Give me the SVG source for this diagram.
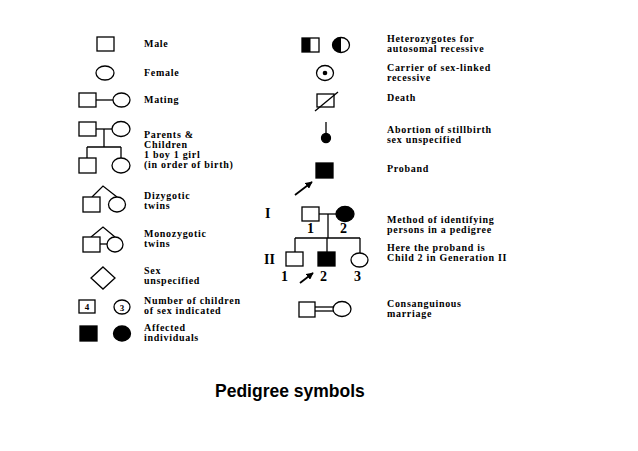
<svg xmlns="http://www.w3.org/2000/svg" width="638" height="451" viewBox="0 0 638 451">
<style>
.s{fill:#fff;stroke:#000;stroke-width:1.3}
.f{fill:#000;stroke:#000;stroke-width:1.3}
.l{fill:none;stroke:#000;stroke-width:1.3}
.a{fill:none;stroke:#000;stroke-width:1.8}
.t{font-family:"Liberation Serif","Times New Roman",serif;font-weight:bold;font-size:10px;letter-spacing:0.7px;fill:#000}
.n{font-family:"Liberation Serif","Times New Roman",serif;font-weight:bold;font-size:14px;fill:#000}
.c{font-family:"Liberation Serif","Times New Roman",serif;font-weight:bold;font-size:9px;fill:#000;text-anchor:middle}
.h{font-family:"Liberation Sans",Arial,sans-serif;font-weight:bold;font-size:17.5px;fill:#000}
</style>
<defs>
<marker id="ah" viewBox="0 0 10 10" refX="9" refY="5" markerWidth="4" markerHeight="4" orient="auto"><path d="M0,0L10,5L0,10z" fill="#000"/></marker>
</defs>
<rect width="638" height="451" fill="#fff"/>

<g id="connectors">
<line class="l" x1="96" y1="100" x2="113" y2="100"/>
<line class="l" x1="96" y1="129" x2="112" y2="129"/>
<line class="l" x1="104" y1="129" x2="104" y2="147"/>
<line class="l" x1="87" y1="147" x2="121" y2="147"/>
<line class="l" x1="87" y1="147" x2="87" y2="158"/>
<line class="l" x1="121" y1="147" x2="121" y2="158"/>
<polyline class="l" points="92,197 103,186 117,197"/>
<polyline class="l" points="91,237 103,227 115,237"/>
<line class="l" x1="100" y1="244" x2="107" y2="244"/>
<line class="l" x1="326" y1="122" x2="326" y2="133"/>
<line class="a" x1="295" y1="195" x2="312" y2="182" marker-end="url(#ah)"/>
<line class="l" x1="319" y1="214" x2="336" y2="214"/>
<line class="l" x1="328" y1="214" x2="328" y2="238"/>
<line class="l" x1="295" y1="238" x2="360" y2="238"/>
<line class="l" x1="295" y1="238" x2="295" y2="252"/>
<line class="l" x1="327" y1="238" x2="327" y2="252"/>
<line class="l" x1="360" y1="238" x2="360" y2="253"/>
<line class="a" x1="300" y1="283" x2="313" y2="273" marker-end="url(#ah)"/>
<line class="l" x1="315" y1="307" x2="333" y2="307"/>
<line class="l" x1="315" y1="311" x2="333" y2="311"/>
</g>

<g id="male"><rect class="s" x="97" y="37" width="17" height="14"/><text class="t" x="144" y="47">Male</text></g>
<g id="female"><ellipse class="s" cx="105" cy="73" rx="9" ry="7"/><text class="t" x="144" y="76">Female</text></g>
<g id="mating"><rect class="s" x="79" y="93" width="17" height="14"/><ellipse class="s" cx="121.5" cy="100" rx="8.5" ry="7"/><text class="t" x="144" y="103">Mating</text></g>
<g id="parents"><rect class="s" x="79" y="122" width="17" height="14"/><ellipse class="s" cx="121" cy="129" rx="9" ry="7.5"/>
<rect class="s" x="79" y="158" width="17" height="15"/><ellipse class="s" cx="121" cy="165.5" rx="9" ry="7.5"/>
<text class="t" x="144" y="138">Parents &amp;</text><text class="t" x="144" y="148">Children</text><text class="t" x="144" y="158">1 boy 1 girl</text><text class="t" x="144" y="168">(in order of birth)</text></g>
<g id="dizygotic"><rect class="s" x="83" y="197" width="17" height="15"/><ellipse class="s" cx="117" cy="204.5" rx="8.5" ry="7.5"/><text class="t" x="144" y="199">Dizygotic</text><text class="t" x="144" y="209">twins</text></g>
<g id="monozygotic"><rect class="s" x="83" y="237" width="17" height="15"/><ellipse class="s" cx="115" cy="244.5" rx="8" ry="7.5"/><text class="t" x="144" y="237">Monozygotic</text><text class="t" x="144" y="247">twins</text></g>
<g id="unspecified"><polygon class="s" points="103,267 115,278 103,289 91,278"/><text class="t" x="144" y="274">Sex</text><text class="t" x="144" y="284">unspecified</text></g>
<g id="number"><rect class="s" x="79" y="300" width="16" height="13"/><text class="c" x="87" y="310">4</text><ellipse class="s" cx="122" cy="307" rx="8" ry="7"/><text class="c" x="122" y="310.5">3</text><text class="t" x="144" y="304">Number of children</text><text class="t" x="144" y="314">of sex indicated</text></g>
<g id="affected"><rect class="f" x="80" y="326" width="17" height="15"/><ellipse class="f" cx="122" cy="333.5" rx="8.5" ry="7.5"/><text class="t" x="144" y="331">Affected</text><text class="t" x="144" y="341">individuals</text></g>

<g id="heterozygotes"><rect class="s" x="302" y="38" width="17" height="14"/><rect x="302" y="38" width="8.5" height="14" fill="#000"/>
<ellipse class="s" cx="341" cy="45" rx="8.5" ry="7.5"/><path d="M341,37.5A8.5,7.5 0 0 0 341,52.5Z" fill="#000"/>
<text class="t" x="387" y="42">Heterozygotes for</text><text class="t" x="387" y="52">autosomal recessive</text></g>
<g id="carrier"><ellipse class="s" cx="325" cy="73" rx="8.5" ry="7.5"/><circle cx="325" cy="73" r="2.3" fill="#000"/><text class="t" x="387" y="71">Carrier of sex-linked</text><text class="t" x="387" y="81">recessive</text></g>
<g id="death"><rect class="s" x="317" y="94" width="17" height="13"/><line class="l" x1="315" y1="111" x2="338" y2="92"/><text class="t" x="387" y="101">Death</text></g>
<g id="abortion"><ellipse class="f" cx="326" cy="138" rx="4.5" ry="4.5"/><text class="t" x="387" y="133">Abortion of stillbirth</text><text class="t" x="387" y="143">sex unspecified</text></g>
<g id="proband"><rect class="f" x="316" y="163" width="17" height="15"/><text class="t" x="387" y="172">Proband</text></g>

<g id="pedigree">
<text class="n" x="265" y="218">I</text>
<text class="n" x="264" y="264">II</text>
<rect class="s" x="302" y="207" width="17" height="14"/>
<ellipse class="f" cx="345" cy="214" rx="9" ry="7.5"/>
<text class="n" x="307" y="233">1</text><text class="n" x="340" y="233">2</text>
<rect class="s" x="286" y="252" width="17" height="14"/>
<rect class="f" x="318" y="252" width="17" height="14"/>
<ellipse class="s" cx="359.5" cy="260" rx="8.5" ry="7"/>
<text class="n" x="281" y="281">1</text><text class="n" x="320" y="281">2</text><text class="n" x="354" y="281">3</text>
<text class="t" x="387" y="223">Method of identifying</text><text class="t" x="387" y="233">persons in a pedigree</text>
<text class="t" x="387" y="251">Here the proband is</text><text class="t" x="387" y="261">Child 2 in Generation II</text>
</g>

<g id="consanguineous"><rect class="s" x="299" y="302" width="16" height="15"/><ellipse class="s" cx="342" cy="309" rx="9" ry="7.5"/><text class="t" x="387" y="307">Consanguinous</text><text class="t" x="387" y="317">marriage</text></g>

<text class="h" x="215" y="397">Pedigree symbols</text>
</svg>
